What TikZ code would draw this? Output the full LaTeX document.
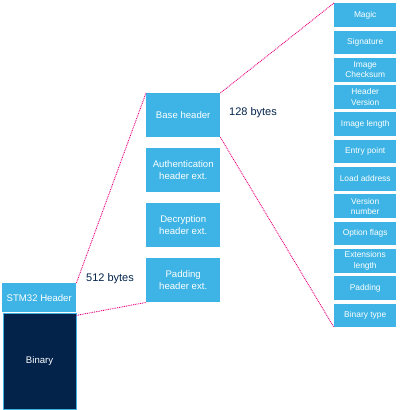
\documentclass[tikz,border=0pt]{standalone}
\usepackage{fontspec}
\setmainfont{Liberation Sans}
\definecolor{stblue}{HTML}{3DB4E5}
\definecolor{stnavy}{HTML}{03234B}
\definecolor{stpink}{HTML}{E6007E}
\begin{document}
\begin{tikzpicture}[x=1pt,y=-1pt,
  box/.style={fill=stblue, text=white, inner sep=0pt, align=center, anchor=north west},
  midbox/.style={box, minimum width=74pt, minimum height=44pt, font=\fontsize{9.6}{12}\selectfont},
  fieldbox/.style={box, minimum width=62pt, minimum height=23.7pt, font=\fontsize{8.4}{10.3}\selectfont},
  link/.style={draw=stpink, line width=0.9pt, dash pattern=on 0.9pt off 0.9pt},
  sizelabel/.style={text=stnavy, font=\fontsize{11}{13}\selectfont, inner sep=0pt}]
\useasboundingbox (0,0) rectangle (400,410);
% left stack
\node[box, minimum width=74pt, minimum height=29pt, font=\fontsize{9.6}{12}\selectfont] (stm) at (2,283) {STM32 Header};
\node[box, fill=stnavy, draw=stblue, line width=1.2pt, minimum width=73pt, minimum height=96pt, font=\fontsize{9.6}{12}\selectfont] (bin) at (2.5,312.5) {Binary};
% middle column
\node[midbox] (base) at (146,93) {Base header};
\node[midbox] (auth) at (146,148) {Authentication\\header ext.};
\node[midbox] (decr) at (146,203) {Decryption\\header ext.};
\node[midbox] (padx) at (146,258) {Padding\\header ext.};
% right column
\node[fieldbox] (f1) at (334,3) {Magic};
\node[fieldbox] (f2) at (334,30.3) {Signature};
\node[fieldbox] (f3) at (334,57.6) {Image\\Checksum};
\node[fieldbox] (f4) at (334,84.9) {Header\\Version};
\node[fieldbox] (f5) at (334,112.2) {Image length};
\node[fieldbox] (f6) at (334,139.5) {Entry point};
\node[fieldbox] (f7) at (334,166.8) {Load address};
\node[fieldbox] (f8) at (334,194.1) {Version\\number};
\node[fieldbox] (f9) at (334,221.4) {Option flags};
\node[fieldbox] (f10) at (334,248.7) {Extensions\\length};
\node[fieldbox] (f11) at (334,276) {Padding};
\node[fieldbox] (f12) at (334,303.3) {Binary type};
% labels
\node[sizelabel] (l512) at (110,279) {512 bytes};
\node[sizelabel] (l128) at (253,113) {128 bytes};
% dotted zoom lines
\draw[link] (stm.north east) -- (base.north west);
\draw[link] ([yshift=-3pt]stm.south east) -- (padx.south west);
\draw[link] (base.north east) -- (f1.north west);
\draw[link] (base.south east) -- (f12.south west);
\end{tikzpicture}
\end{document}
